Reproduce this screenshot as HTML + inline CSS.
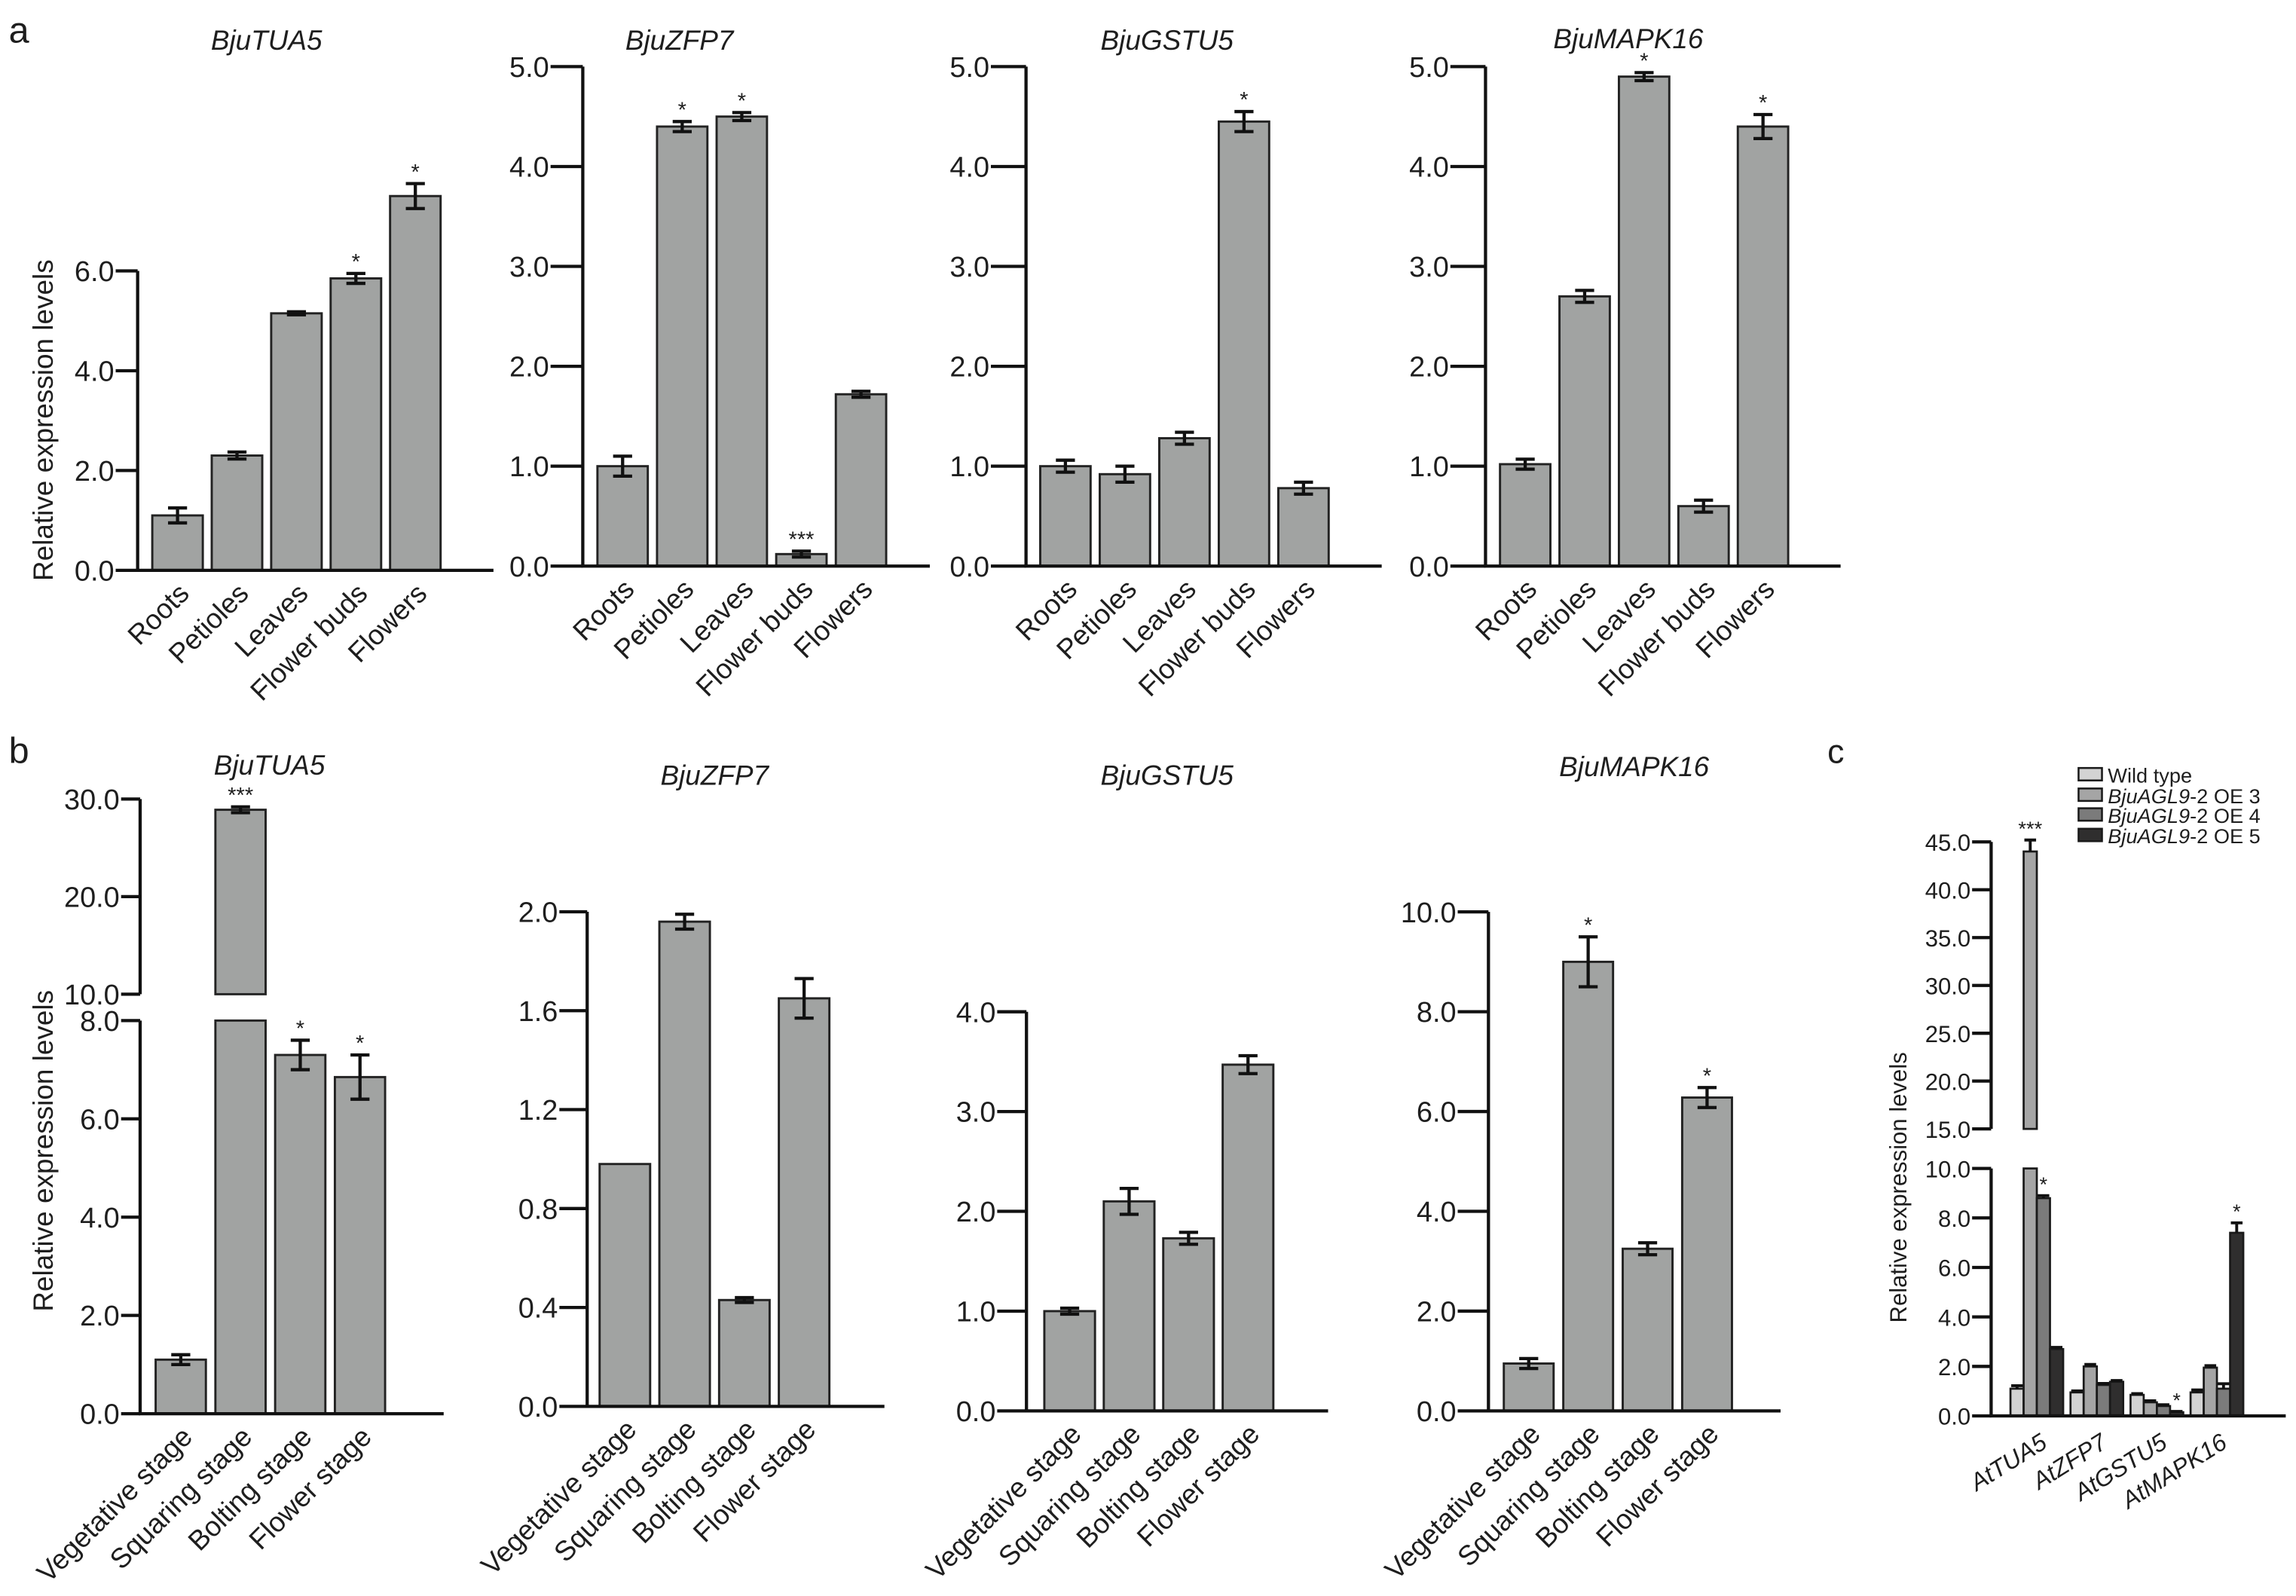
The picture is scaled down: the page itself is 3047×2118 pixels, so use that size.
<!DOCTYPE html>
<html><head><meta charset="utf-8"><style>
html,body{margin:0;padding:0;background:#fff;}
svg{display:block;}
text{font-family:"Liberation Sans",Arial,sans-serif;fill:#1e1e1e;}
</style></head><body>
<svg id="fig" xmlns="http://www.w3.org/2000/svg" width="3047" height="2118" viewBox="0 0 1568 1090" preserveAspectRatio="none">
<text x="6" y="29" font-size="25">a</text>
<text x="6" y="521" font-size="25">b</text>
<text x="1248" y="521" font-size="23">c</text>
</svg>
<script>
// ---------- data ----------
const tissues = ["Roots","Petioles","Leaves","Flower buds","Flowers"];
const stages = ["Vegetative stage","Squaring stage","Bolting stage","Flower stage"];
const genesA = ["BjuTUA5","BjuZFP7","BjuGSTU5","BjuMAPK16"];
const aTUA5 = [1.1,2.3,5.15,5.85,7.5];
const aTUA5Err = [0.15,0.07,0.03,0.1,0.25];
const aTUA5Sig = ["","","","*","*"];
const aZFP7 = [1.0,4.4,4.5,0.12,1.72];
const aZFP7Err = [0.1,0.05,0.04,0.03,0.03];
const aZFP7Sig = ["","*","*","***",""];
const aGSTU5 = [1.0,0.92,1.28,4.45,0.78];
const aGSTU5Err = [0.06,0.08,0.06,0.1,0.06];
const aGSTU5Sig = ["","","","*",""];
const aMAPK16 = [1.02,2.7,4.9,0.6,4.4];
const aMAPK16Err = [0.05,0.06,0.04,0.06,0.12];
const aMAPK16Sig = ["","","*","","*"];
const bTUA5 = [1.1,28.9,7.3,6.85];
const bTUA5Err = [0.1,0.3,0.3,0.45];
const bTUA5Sig = ["","***","*","*"];
const bZFP7 = [0.98,1.96,0.43,1.65];
const bZFP7Err = [0,0.03,0.01,0.08];
const bZFP7Sig = ["","","",""];
const bGSTU5 = [1.0,2.1,1.73,3.47];
const bGSTU5Err = [0.03,0.13,0.06,0.09];
const bGSTU5Sig = ["","","",""];
const bMAPK16 = [0.95,9.0,3.25,6.28];
const bMAPK16Err = [0.1,0.5,0.12,0.2];
const bMAPK16Sig = ["","*","","*"];
const cGenes = ["AtTUA5","AtZFP7","AtGSTU5","AtMAPK16"];
const cSeries = ["Wild type","OE 3","OE 4","OE 5"];
const cWT = [1.1,0.95,0.85,0.95];
const cOE3 = [44,2.0,0.55,1.95];
const cOE4 = [8.8,1.25,0.4,1.1];
const cOE5 = [2.7,1.38,0.15,7.4];
const cWTErr = [0.12,0.06,0.05,0.1];
const cOE3Err = [1.2,0.08,0.06,0.08];
const cOE4Err = [0.1,0.06,0.05,0.2];
const cOE5Err = [0.07,0.05,0.03,0.4];
const cOE4Sig = ["*","","",""];
const cOE5Sig = ["","","*","*"];
const tickA1 = [0,2,4,6];
const tickA = [0,1,2,3,4,5];
const tickB1Low = [0,2,4,6,8];
const tickB1High = [10,20,30];
const tickB2 = [0,0.4,0.8,1.2,1.6,2.0];
const tickB3 = [0,1,2,3,4];
const tickB4 = [0,2,4,6,8,10];
const tickCLow = [0,2,4,6,8,10];
const tickCHigh = [15,20,25,30,35,40,45];

// ---------- helpers ----------
const svg = document.getElementById('fig');
const NS = "http://www.w3.org/2000/svg";
function mk(tag, attrs, parent){
  const e = document.createElementNS(NS, tag);
  for (const k in attrs) e.setAttribute(k, attrs[k]);
  (parent||svg).appendChild(e);
  return e;
}
function segScale(seg){ return v => seg.y0 + (v - seg.lo)/(seg.hi - seg.lo)*(seg.y1 - seg.y0); }
function segFor(segs, v){ for (const s of segs){ if (v >= s.lo && v <= s.hi) return s; } return segs[segs.length-1]; }

function drawChart(c){
  const g = mk('g', {});
  
  
  const t = mk('text', {x:c.titleX, y:c.titleY, 'font-size':19, 'font-style':'italic', 'text-anchor':'middle'}, g);
  t.textContent = c.title;
  
  
  c.vals.forEach((v,i)=>{
    const x = c.axisX + c.off + i*c.pitch;
    c.segs.forEach(s=>{
      if (v <= s.lo) return;
      const sc = segScale(s);
      const top = sc(Math.min(v, s.hi));
      const bot = sc(s.lo);
      const r = mk('rect', {x:x, y:top, width:c.bw, height:bot-top, fill:'#a1a3a2', stroke:'#222', 'stroke-width':1.5}, g);
      
      
    });
    const s = segFor(c.segs, v);
    const sc = segScale(s);
    const cx = x + c.bw/2;
    const e = c.errs[i];
    if (e > 0){
      const yt = sc(v+e), yb = sc(v-e);
      const eb = mk('path', {d:`M${cx-6.5},${yt}H${cx+6.5}M${cx},${yt}V${yb}M${cx-6.5},${yb}H${cx+6.5}`, stroke:'#111', 'stroke-width':2.2, fill:'none'}, g);
      
      
    }
    if (c.sig[i]){
      const st = mk('text', {x:cx, y:sc(v+e)-3, 'font-size':15, 'text-anchor':'middle'}, g);
      st.textContent = c.sig[i];
      
      
    }
    const lx = cx + 9, ly = c.segs[0].y0 + 17;
    const lb = mk('text', {x:lx, y:ly, 'font-size':c.lfs||19, 'text-anchor':'end', transform:`rotate(-45 ${lx} ${ly})`}, g);
    lb.textContent = c.cats[i];
    
    
  });
  c.segs.forEach(s=>{
    const sc = segScale(s);
    const topVal = (s.axisHi !== undefined) ? s.axisHi : s.hi;
    const ax = mk('line', {x1:c.axisX, x2:c.axisX, y1:s.y0, y2:sc(topVal), stroke:'#111', 'stroke-width':2.2}, g);
    
    
    s.ticks.forEach(tv=>{
      const y = sc(tv);
      const tk = mk('line', {x1:c.axisX - c.tl, x2:c.axisX, y1:y, y2:y, stroke:'#111', 'stroke-width':2.2}, g);
      
      
      const tl = mk('text', {x:c.axisX - c.tl - 1, y:y+7, 'font-size':19.5, 'text-anchor':'end'}, g);
      tl.textContent = tv.toFixed(1);
      
      
    });
  });
  const bl = mk('line', {x1:c.axisX - 1, x2:c.baseEnd, y1:c.segs[0].y0, y2:c.segs[0].y0, stroke:'#111', 'stroke-width':2.2}, g);
  
  
  if (c.ylabel){
    const yl = mk('text', {x:0, y:0, 'font-size':19, 'text-anchor':'middle', transform:`translate(${c.ylabel[0]} ${c.ylabel[1]}) rotate(-90)`}, g);
    yl.textContent = "Relative expression levels";
    
    
  }
}

// ---------- panel a ----------
drawChart({name:'chart-a-tua5', title:genesA[0], titleX:182, titleY:34, cats:tissues, vals:aTUA5, errs:aTUA5Err, sig:aTUA5Sig,
  axisX:94, off:10, pitch:40.6, bw:34.5, tl:15, baseEnd:337, ylabel:[36,287],
  segs:[{lo:0, hi:9, axisHi:6, y0:389.5, y1:389.5-9*34.08, ticks:tickA1}]});
drawChart({name:'chart-a-zfp7', title:genesA[1], titleX:464, titleY:34, cats:tissues, vals:aZFP7, errs:aZFP7Err, sig:aZFP7Sig,
  axisX:398, off:10, pitch:40.7, bw:34.4, tl:22, baseEnd:635,
  segs:[{lo:0, hi:5, y0:386.6, y1:45.5, ticks:tickA}]});
drawChart({name:'chart-a-gstu5', title:genesA[2], titleX:797, titleY:34, cats:tissues, vals:aGSTU5, errs:aGSTU5Err, sig:aGSTU5Sig,
  axisX:700.7, off:9.7, pitch:40.65, bw:34.4, tl:24, baseEnd:943.6,
  segs:[{lo:0, hi:5, y0:386.6, y1:45.5, ticks:tickA}]});
drawChart({name:'chart-a-mapk16', title:genesA[3], titleX:1112, titleY:33, cats:tissues, vals:aMAPK16, errs:aMAPK16Err, sig:aMAPK16Sig,
  axisX:1014.5, off:9.9, pitch:40.6, bw:34.4, tl:24, baseEnd:1257,
  segs:[{lo:0, hi:5, y0:386.6, y1:45.5, ticks:tickA}]});

// ---------- panel b ----------
drawChart({name:'chart-b-tua5', title:genesA[0], titleX:184, titleY:529, cats:stages, vals:bTUA5, errs:bTUA5Err, sig:bTUA5Sig,
  axisX:95.7, off:10.6, pitch:40.8, bw:34.3, tl:13, baseEnd:303, ylabel:[36,786],
  segs:[{lo:0, hi:8, y0:965.5, y1:697, ticks:tickB1Low},{lo:10, hi:30, y0:679, y1:545.7, ticks:tickB1High}]});
drawChart({name:'chart-b-zfp7', title:genesA[1], titleX:488, titleY:536, cats:stages, vals:bZFP7, errs:bZFP7Err, sig:bZFP7Sig,
  axisX:401, off:8.5, pitch:40.8, bw:34.5, tl:19, baseEnd:604,
  segs:[{lo:0, hi:2, y0:960.5, y1:622.7, ticks:tickB2}]});
drawChart({name:'chart-b-gstu5', title:genesA[2], titleX:797, titleY:536, cats:stages, vals:bGSTU5, errs:bGSTU5Err, sig:bGSTU5Sig,
  axisX:701, off:12.2, pitch:40.6, bw:34.6, tl:20, baseEnd:907,
  segs:[{lo:0, hi:4, y0:963.6, y1:691, ticks:tickB3}]});
drawChart({name:'chart-b-mapk16', title:genesA[3], titleX:1116, titleY:530, cats:stages, vals:bMAPK16, errs:bMAPK16Err, sig:bMAPK16Sig,
  axisX:1016.5, off:10.5, pitch:40.6, bw:34, tl:21, baseEnd:1216,
  segs:[{lo:0, hi:10, y0:963.6, y1:622.8, ticks:tickB4}]});

// ---------- panel c ----------
(function(){
  const axisX = 1359.8, off = 13.2, gp = 41, bw = 9;
  const segs = [{lo:0, hi:10, y0:967, y1:798, ticks:tickCLow},{lo:15, hi:45, y0:771, y1:575, ticks:tickCHigh}];
  const series = [cWT, cOE3, cOE4, cOE5];
  const errs = [cWTErr, cOE3Err, cOE4Err, cOE5Err];
  const sigs = [["","","",""], ["***","","",""], cOE4Sig, cOE5Sig];
  const fills = ['#d3d3d3','#a5a5a5','#7b7b7b','#2f2e2e'];
  const g = mk('g', {});
  
  
  cGenes.forEach((gene, gi)=>{
    series.forEach((vals, si)=>{
      const v = vals[gi];
      const x = axisX + off + gi*gp + si*bw;
      segs.forEach(s=>{
        if (v <= s.lo) return;
        const sc = segScale(s);
        const top = sc(Math.min(v, s.hi)), bot = sc(s.lo);
        const r = mk('rect', {x:x, y:top, width:bw, height:bot-top, fill:fills[si], stroke:'#1a1a1a', 'stroke-width':1.4}, g);
        
        
      });
      const s = segFor(segs, v);
      const sc = segScale(s);
      const cx = x + bw/2, yt = sc(v + errs[si][gi]);
      const eb = mk('path', {d:`M${cx-4},${yt}H${cx+4}M${cx},${yt}V${sc(v)}`, stroke:'#111', 'stroke-width':2, fill:'none'}, g);
      
      
      if (sigs[si][gi]){
        const st = mk('text', {x:cx, y:yt-3, 'font-size':14, 'text-anchor':'middle'}, g);
        st.textContent = sigs[si][gi];
        
        
      }
    });
    const lx = axisX + off + gi*gp + 26, ly = 988;
    const lb = mk('text', {x:lx, y:ly, 'font-size':16.5, 'font-style':'italic', 'text-anchor':'end', transform:`rotate(-32 ${lx} ${ly})`}, g);
    lb.textContent = gene;
    
    
  });
  segs.forEach(s=>{
    const sc = segScale(s);
    const ax = mk('line', {x1:axisX, x2:axisX, y1:s.y0, y2:s.y1, stroke:'#111', 'stroke-width':2.2}, g);
    
    
    s.ticks.forEach(tv=>{
      const y = sc(tv);
      const tk = mk('line', {x1:axisX-13, x2:axisX, y1:y, y2:y, stroke:'#111', 'stroke-width':2.2}, g);
      
      
      const tl = mk('text', {x:axisX-14, y:y+6, 'font-size':16, 'text-anchor':'end'}, g);
      tl.textContent = tv.toFixed(1);
      
      
    });
  });
  const bl = mk('line', {x1:axisX-1, x2:1561, y1:967, y2:967, stroke:'#111', 'stroke-width':2.2}, g);
  
  
  const yl = mk('text', {x:0, y:0, 'font-size':16, 'text-anchor':'middle', transform:'translate(1302 811) rotate(-90)'}, g);
  yl.textContent = "Relative expression levels";
  
  
  const lg = mk('g', {}, g);
  
  
  const rowsY = [524.5, 538.5, 552, 566];
  cSeries.forEach((nm, si)=>{
    const y = rowsY[si];
    const bx = mk('rect', {x:1419.5, y:y, width:16, height:8.5, fill:fills[si], stroke:'#1a1a1a', 'stroke-width':1.3}, lg);
    
    
    const tx = mk('text', {x:1439.5, y:y+10, 'font-size':14}, lg);
    if (si === 0){ tx.textContent = nm; }
    else {
      const ts = mk('tspan', {'font-style':'italic'}, tx);
      ts.textContent = 'BjuAGL9';
      const ts2 = mk('tspan', {}, tx);
      ts2.textContent = '-2 ' + nm;
    }
    
    
  });
})();
</script>
</body></html>
